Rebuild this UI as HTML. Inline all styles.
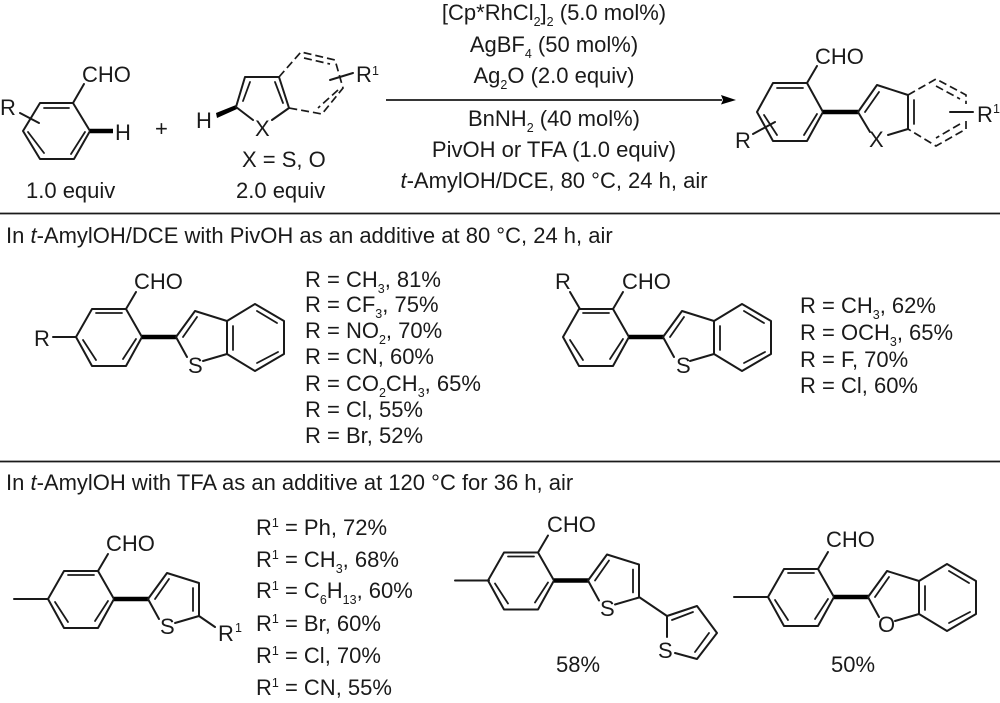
<!DOCTYPE html>
<html><head><meta charset="utf-8"><style>
html,body{margin:0;padding:0;background:#fff}
svg{display:block}
text{font-family:"Liberation Sans",Arial,sans-serif;font-size:22px;fill:#1a1a1a}
.s{font-size:12.500px}
.b{fill:none;stroke:#1a1a1a;stroke-width:2;stroke-linejoin:round;stroke-linecap:round}
.i{fill:none;stroke:#1a1a1a;stroke-width:1.8;stroke-linecap:round}
.d{fill:none;stroke:#1a1a1a;stroke-width:1.7;stroke-dasharray:8 4}
.w{fill:none;stroke:#000;stroke-width:4.5}
</style></head><body>
<svg width="1000" height="703" viewBox="0 0 1000 703" xmlns="http://www.w3.org/2000/svg">
<defs>
<g id="aryl">
<path class="b" d="M-17,-28H17L33,0 17,29H-17L-33,0Z"/>
<path class="i" d="M-13,-24H13M27,2 14,22M-26,3 -13,23"/>
<path class="b" d="M17,-28 27,-45"/>
<path class="w" d="M33,0H68"/>
</g>
<g id="thio">
<path class="b" d="M78,20 67,0 86,-26 118,-16 118,17 94,24"/>
<path class="i" d="M74,0 88,-20M112,-11V12"/>
</g>
<g id="benzo">
<path class="b" d="M78,20 67,0 86,-26 118,-16 118,17 94,24M118,-16 146,-33 175,-16V17L146,34 118,17"/>
<path class="i" d="M74,0 88,-20M124,-11V13M148,-26 168,-14M169,15 148,26"/>
</g>
</defs>

<!-- substrate 1 -->
<path class="b" d="M40,103H73L90,131 74,159H40L23,131Z"/>
<path class="i" d="M44,108H69M28,132 44,153M85,132 71,154"/>
<path class="b" d="M73,103 84,84M20,113 39,123"/>
<path class="w" d="M90,131H113"/>
<text x="0" y="115">R</text><text x="82" y="82">CHO</text><text x="115" y="140">H</text>
<text x="155" y="136">+</text>

<!-- substrate 2 -->
<text x="196" y="128">H</text>
<path d="M216,113 236,105 237,109 217,118Z" fill="#000"/>
<path class="b" d="M253,120 236,107 245,77H279L289,108 272,120"/>
<path class="i" d="M250,82 243,101M275,82 283,103"/>
<path class="d" d="M279,77 301,52 335,60 343,88 322,114 289,108"/>
<path class="d" d="M304,58 330,64M338,90 318,108"/>
<path class="b" d="M330,80 353,73"/>
<text x="255" y="136">X</text>
<text x="356" y="82">R</text><text class="s" x="372" y="75">1</text>
<text x="242" y="167">X = S, O</text>
<text x="26" y="198">1.0 equiv</text>
<text x="236" y="198">2.0 equiv</text>

<!-- arrow -->
<path d="M386,100H722" stroke="#1a1a1a" stroke-width="1.8"/>
<path d="M721,95 736,100 721,104.500 723,100Z" fill="#000"/>

<!-- conditions -->
<g text-anchor="middle">
<text x="554" y="20">[Cp*RhCl<tspan class="s" dy="6">2</tspan><tspan dy="-6">]</tspan><tspan class="s" dy="6">2</tspan><tspan dy="-6"> (5.0 mol%)</tspan></text>
<text x="554" y="52">AgBF<tspan class="s" dy="6">4</tspan><tspan dy="-6"> (50 mol%)</tspan></text>
<text x="554" y="83">Ag<tspan class="s" dy="6">2</tspan><tspan dy="-6">O (2.0 equiv)</tspan></text>
<text x="554" y="126">BnNH<tspan class="s" dy="6">2</tspan><tspan dy="-6"> (40 mol%)</tspan></text>
<text x="554" y="157">PivOH or TFA (1.0 equiv)</text>
<text x="554" y="188"><tspan font-style="italic">t</tspan>-AmylOH/DCE, 80 °C, 24 h, air</text>
</g>

<!-- product -->
<path class="b" d="M773,83H807L823,112 807,141H773L757,112Z"/>
<path class="i" d="M777,88H803M817,114 804,135M764,115 777,135"/>
<path class="b" d="M807,83 817,66M753,134 775,122"/>
<path class="w" d="M823,112H858"/>
<path class="b" d="M870,132 858,112 877,85 908,95V129L888,135"/>
<path class="i" d="M865,112 879,92M914,100V124"/>
<path class="d" d="M908,95 936,79 966,95V104M966,121V129L936,146 908,129"/>
<path class="d" d="M936,86 960,99M960,124 936,138"/>
<path class="b" d="M950,112H973"/>
<text x="815" y="64">CHO</text>
<text x="735" y="148">R</text>
<text x="869" y="147">X</text>
<text x="977" y="122">R</text><text class="s" x="993" y="113">1</text>

<path d="M0,213.500H1000M0,461.500H1000" stroke="#1a1a1a" stroke-width="1.8"/>

<text x="6" y="243">In <tspan font-style="italic">t</tspan>-AmylOH/DCE with PivOH as an additive at 80 °C, 24 h, air</text>
<text x="6" y="490">In <tspan font-style="italic">t</tspan>-AmylOH with TFA as an additive at 120 °C for 36 h, air</text>

<!-- row 1 left -->
<use href="#aryl" x="109" y="337"/><use href="#benzo" x="109" y="337"/>
<path class="b" d="M53,337H76"/>
<text x="134" y="289">CHO</text><text x="34" y="346">R</text><text x="188" y="373">S</text>

<text x="305" y="287">R = CH<tspan class="s" dy="6">3</tspan><tspan dy="-6">, 81%</tspan></text>
<text x="305" y="312">R = CF<tspan class="s" dy="6">3</tspan><tspan dy="-6">, 75%</tspan></text>
<text x="305" y="338">R = NO<tspan class="s" dy="6">2</tspan><tspan dy="-6">, 70%</tspan></text>
<text x="305" y="364">R = CN, 60%</text>
<text x="305" y="391">R = CO<tspan class="s" dy="6">2</tspan><tspan dy="-6">CH</tspan><tspan class="s" dy="6">3</tspan><tspan dy="-6">, 65%</tspan></text>
<text x="305" y="417">R = Cl, 55%</text>
<text x="305" y="443">R = Br, 52%</text>

<!-- row 1 right -->
<use href="#aryl" x="596" y="337"/><use href="#benzo" x="596" y="337"/>
<path class="b" d="M580,309 570,292"/>
<text x="555" y="289">R</text><text x="622" y="289">CHO</text><text x="676" y="373">S</text>

<text x="800" y="313">R = CH<tspan class="s" dy="6">3</tspan><tspan dy="-6">, 62%</tspan></text>
<text x="800" y="340">R = OCH<tspan class="s" dy="6">3</tspan><tspan dy="-6">, 65%</tspan></text>
<text x="800" y="367">R = F, 70%</text>
<text x="800" y="393">R = Cl, 60%</text>

<!-- row 2 left -->
<use href="#aryl" x="81" y="599"/><use href="#thio" x="81" y="599"/>
<path class="b" d="M14,599H48M199,616 215,627"/>
<text x="106" y="551">CHO</text><text x="160" y="634">S</text>
<text x="218" y="641">R</text><text class="s" x="235" y="632">1</text>

<text x="256" y="535">R<tspan class="s" dy="-8">1</tspan><tspan dy="8"> = Ph, 72%</tspan></text>
<text x="256" y="567">R<tspan class="s" dy="-8">1</tspan><tspan dy="8"> = CH</tspan><tspan class="s" dy="6">3</tspan><tspan dy="-6">, 68%</tspan></text>
<text x="256" y="598">R<tspan class="s" dy="-8">1</tspan><tspan dy="8"> = C</tspan><tspan class="s" dy="6">6</tspan><tspan dy="-6">H</tspan><tspan class="s" dy="6">13</tspan><tspan dy="-6">, 60%</tspan></text>
<text x="256" y="631">R<tspan class="s" dy="-8">1</tspan><tspan dy="8"> = Br, 60%</tspan></text>
<text x="256" y="663">R<tspan class="s" dy="-8">1</tspan><tspan dy="8"> = Cl, 70%</tspan></text>
<text x="256" y="695">R<tspan class="s" dy="-8">1</tspan><tspan dy="8"> = CN, 55%</tspan></text>

<!-- row 2 middle -->
<use href="#aryl" x="521" y="580.500"/><use href="#thio" x="521" y="580.500"/>
<path class="b" d="M455,580.500H489M639,597 667,616V637M675,653 697,659 717,633 697,606 667,616"/>
<path class="i" d="M672,620 693,612M709,633 695,652"/>
<text x="547" y="532">CHO</text><text x="600" y="616">S</text><text x="658" y="658">S</text>
<text x="556" y="672">58%</text>

<!-- row 2 right -->
<use href="#aryl" x="801" y="597"/><use href="#benzo" x="801" y="597"/>
<path class="b" d="M734,597H768"/>
<text x="826" y="547">CHO</text><text x="878" y="632">O</text>
<text x="831" y="672">50%</text>
</svg>
</body></html>
